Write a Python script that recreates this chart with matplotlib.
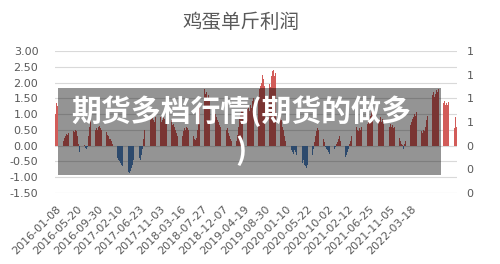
import numpy as np
import matplotlib
matplotlib.use("Agg")
import matplotlib.pyplot as plt
from matplotlib.patches import Rectangle
from matplotlib.ticker import FormatStrFormatter

plt.rcParams['font.family'] = ['DejaVu Sans', 'Noto Sans CJK SC']

# weekly profit per jin of eggs (yuan)
profit = [
    1.0, 1.35, 1.25, 0.85, 0.5, 0.18, 0.1, 0.15, 0.25, 0.32, 0.38, 0.35, 0.4, 0.42, 0.35, 0.4, 0.45, 0.42, 0.5,
    0.45, 0.3, 0.05, -0.2, -0.45, -0.3, -0.05, 0.02, -0.08, -0.12, -0.05, 0.3, 0.6, 0.8, 0.7, 0.55, 0.45, 0.5, 0.55,
    0.5, 0.58, 0.62, 0.55, 0.5, 0.48, 0.55, 0.5, 0.42, 0.35, 0.3, 0.22, 0.2, 0.15, 0.05, -0.1, -0.2, -0.3, -0.4,
    -0.45, -0.5, -0.55, -0.6, -0.65, -0.72, -0.78, -0.8, -0.85, -0.82, -0.88, -0.8, -0.7, -0.6, -0.45, -0.3, -0.15, 0.05, -0.2,
    -0.4, -0.44, -0.3, -0.1, 0.2, 0.5, 0.8, 0.85, 0.75, 0.9, 0.8, 0.85, 0.95, 0.8, 0.75, 0.9, 1.0, 0.85, 0.8,
    0.9, 0.75, 0.8, 0.95, 0.85, 0.7, 0.8, 0.9, 0.75, 0.7, 0.8, 0.65, 0.7, 0.6, 0.5, 0.4, 0.3, 0.2, 0.1,
    0.15, 0.3, 0.45, 0.55, 0.5, 0.58, 0.55, 0.5, 0.58, 0.52, 0.45, 0.3, 0.2, 0.18, 0.25, 0.5, 0.9, 1.3, 1.6,
    1.85, 1.93, 1.8, 1.65, 1.7, 1.5, 1.6, 1.4, 1.3, 1.36, 1.2, 1.1, 1.0, 0.9, 0.8, 0.75, 0.65, 0.6, 0.55,
    0.6, 0.55, 0.6, 0.5, 0.55, 0.4, 0.3, 0.2, 0.15, 0.2, -0.1, 0.05, 0.15, 0.35, 0.6, 0.85, 1.0, 1.1, 1.15,
    1.1, 1.2, 1.05, 1.15, 1.25, 1.1, 1.3, 1.2, 1.4, 1.5, 1.35, 1.6, 1.7, 1.55, 1.8, 1.9, 2.0, 2.25, 2.1,
    1.9, 1.8, 2.0, 2.1, 1.95, 1.85, 2.2, 2.35, 2.4, 2.2, 2.3, 1.9, 1.6, 1.3, 1.0, 0.8, 0.6, 0.5, 0.3,
    0.15, 0.0, -0.1, -0.2, -0.3, -0.15, -0.2, -0.25, -0.15, -0.2, -0.3, -0.35, -0.45, -0.4, -0.5, -0.55, -0.45, -0.6, -0.66,
    -0.7, -0.6, -0.66, -0.55, -0.5, -0.3, -0.1, 0.1, 0.3, 0.45, 0.57, 0.5, 0.4, 0.45, 0.3, 0.2, 0.1, -0.05, -0.1,
    -0.15, -0.2, -0.25, -0.15, -0.2, -0.25, -0.1, -0.05, 0.05, 0.1, 0.2, 0.3, 0.15, 0.05, -0.1, -0.25, -0.35, -0.3, -0.2,
    -0.1, 0.05, 0.15, 0.3, 0.4, 0.5, 0.45, 0.6, 0.5, 0.45, 0.55, 0.5, 0.6, 0.65, 0.55, 0.5, 0.6, 0.7, 0.75,
    0.85, 0.95, 1.1, 1.3, 1.0, 1.05, 0.9, 1.0, 0.85, 0.8, 0.9, 0.75, 0.85, 0.7, 0.8, 0.75, 0.65, 0.7, 0.6,
    0.7, 0.6, 0.65, 0.55, 0.6, 0.5, 0.45, 0.35, 0.25, 0.15, 0.05, 0.02, -0.12, 0.05, 0.15, 0.3, 0.45, 0.55, 0.65,
    0.75, 0.85, 0.9, 1.0, 0.95, 1.05, 0.9, 0.8, 0.6, 0.45, 0.4, 0.5, 0.45, 0.6, 0.8, 0.95, 1.1, 1.3, 1.5,
    1.6, 1.7, 1.55, 1.65, 1.75, 1.7, 1.8, 1.78, 1.7, 1.5, 1.35, 1.4, 1.3, 1.35, 1.3, 1.38, 1.3, 1.32, 0.8, 0.35, 0.55, 0.9, 0.6,
]

date_labels = ["2016-01-08", "2016-05-20", "2016-09-30", "2017-02-10", "2017-06-23",
               "2017-11-03", "2018-03-16", "2018-07-27", "2018-12-07", "2019-04-19",
               "2019-08-30", "2020-01-10", "2020-05-22", "2020-10-02", "2021-02-12",
               "2021-06-25", "2021-11-05", "2022-03-18"]
label_step = 19

title = "鸡蛋单斤利润"
watermark = "期货多档行情(期货的做多\n)"

profit = np.array(profit)
x = np.arange(len(profit))
colors = np.where(profit >= 0, "#D25C59", "#4F81BD")

fig = plt.figure(figsize=(5.0, 2.64), dpi=100)
ax = fig.add_axes([0.11, 0.269, 0.804, 0.538])

ax.bar(x, profit, width=0.6, color=colors, zorder=3)

ax.set_xlim(-0.5, len(profit) - 0.5)
ax.set_ylim(-1.5, 3.0)
ax.set_yticks(np.arange(-1.5, 3.01, 0.5))
ax.yaxis.set_major_formatter(FormatStrFormatter('%.2f'))
ax.grid(axis='y', color='#D9D9D9', linewidth=0.8, zorder=0)
ax.set_xticks(x[::label_step][:len(date_labels)])
ax.set_xticklabels(date_labels, rotation=45, ha='right', rotation_mode='anchor')
ax.tick_params(axis='both', length=0, labelsize=8, labelcolor='#595959')
ax.tick_params(axis='y', pad=12)
ax.tick_params(axis='x', pad=8)
for s in ax.spines.values():
    s.set_visible(False)

ax2 = ax.twinx()
ax2.set_ylim(0, 1.2)
ax2.set_yticks(np.arange(0, 1.21, 0.2))
ax2.yaxis.set_major_formatter(FormatStrFormatter('%.0f'))
ax2.tick_params(axis='y', length=0, labelsize=8, labelcolor='#595959', pad=7)
for s in ax2.spines.values():
    s.set_visible(False)

fig.text(0.482, 0.915, title, ha='center', va='center', fontsize=14,
         color='#595959', family=['Noto Sans CJK SC', 'DejaVu Sans'])

# grey watermark banner over the chart
fig.add_artist(Rectangle((0.116, 0.337), 0.766, 0.33, transform=fig.transFigure,
                         facecolor='black', alpha=0.42, edgecolor='none', zorder=10))
fig.text(0.482, 0.505, watermark, ha='center', va='center', fontsize=21.5,
         fontweight='bold', color='white', linespacing=1.3, zorder=11,
         family=['Noto Sans CJK SC', 'DejaVu Sans'])

fig.savefig("out.png", dpi=100)
